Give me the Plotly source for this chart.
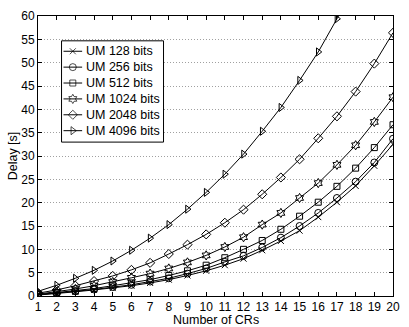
import plotly.graph_objects as go

x_crs = list(range(1, 21))
x_4096 = list(range(1, 19))

um_128 = [0.2, 0.5, 0.9, 1.3, 1.7, 2.2, 2.8, 3.5, 4.4, 5.4, 6.6, 8.0, 9.8, 11.8, 14.0, 16.9, 20.1, 23.6, 27.9, 32.5]
um_256 = [0.25, 0.6, 1.0, 1.4, 1.9, 2.4, 3.1, 3.8, 4.8, 5.9, 7.3, 8.6, 10.4, 12.5, 15.0, 17.8, 21.0, 24.5, 28.6, 33.7]
um_512 = [0.3, 0.7, 1.1, 1.6, 2.2, 2.8, 3.5, 4.4, 5.4, 6.6, 8.2, 10.0, 11.9, 14.3, 17.1, 20.1, 23.5, 27.4, 31.8, 36.7]
um_1024 = [0.4, 0.9, 1.5, 2.2, 3.0, 3.9, 4.8, 5.9, 7.2, 8.7, 10.5, 12.6, 15.3, 17.8, 21.0, 24.2, 28.1, 32.3, 37.3, 42.6]
um_2048 = [0.6, 1.3, 2.2, 3.2, 4.3, 5.6, 7.1, 9.0, 11.0, 13.2, 15.7, 18.5, 21.8, 25.4, 29.3, 33.8, 38.5, 43.8, 49.8, 56.4]
um_4096 = [1.0, 2.3, 3.8, 5.5, 7.5, 9.8, 12.4, 15.3, 18.6, 22.2, 26.1, 30.4, 35.3, 40.4, 46.2, 52.3, 59.4, 66.5]

series_names = ["UM 128 bits", "UM 256 bits", "UM 512 bits", "UM 1024 bits", "UM 2048 bits", "UM 4096 bits"]
series_x = [x_crs, x_crs, x_crs, x_crs, x_crs, x_4096]
series_y = [um_128, um_256, um_512, um_1024, um_2048, um_4096]
symbols = ["x-thin-open", "circle-open", "square-open", "hexagram-open", "diamond-open", "triangle-right-open"]
sizes = [6, 7, 6, 7, 7, 7]

font = "Liberation Sans, Arial, Helvetica, sans-serif"
FS = 12.5
TICK_FS = 12

fig = go.Figure()
for name, xs, ys, sym, sz in zip(series_names, series_x, series_y, symbols, sizes):
    fig.add_trace(go.Scatter(
        x=xs, y=ys, name=name, mode="lines+markers", showlegend=False,
        line=dict(color="black", width=1),
        marker=dict(symbol=sym, size=sz, color="black", line=dict(color="black", width=1)),
    ))

# Custom legend on an overlay axis measured in pixels of the plot area
L_LEFT, L_RIGHT, L_TOP, L_BOTTOM = 62, 166, 39, 141
fig.add_trace(go.Scatter(
    x=[L_LEFT, L_RIGHT, L_RIGHT, L_LEFT, L_LEFT],
    y=[L_TOP, L_TOP, L_BOTTOM, L_BOTTOM, L_TOP],
    xaxis="x2", yaxis="y2", mode="lines", fill="toself", fillcolor="white",
    line=dict(color="black", width=1), showlegend=False, hoverinfo="skip",
))
row0, row_gap = 49.5, 16.0
for i, (name, sym, sz) in enumerate(zip(series_names, symbols, sizes)):
    cy = row0 + row_gap * i
    fig.add_trace(go.Scatter(
        x=[64, 73.5, 83], y=[cy, cy, cy], xaxis="x2", yaxis="y2",
        mode="lines+markers", showlegend=False, hoverinfo="skip",
        line=dict(color="black", width=1),
        marker=dict(symbol=sym, size=[0, sz, 0], color="black", line=dict(color="black", width=1)),
    ))
    fig.add_annotation(
        x=85, y=cy, xref="x2", yref="y2", text=name, showarrow=False,
        xanchor="left", yanchor="middle", font=dict(size=FS, family=font, color="black"),
    )

# x-axis title placed as text below the tick labels
fig.add_annotation(
    x=0.5, y=(296 - 320) / 282, xref="paper", yref="paper", text="Number of CRs", showarrow=False,
    xanchor="center", yanchor="middle", font=dict(size=FS, family=font, color="black"),
)

fig.update_layout(
    width=409, height=327,
    margin=dict(l=38, r=9, t=14, b=31),
    paper_bgcolor="white", plot_bgcolor="white",
    font=dict(family=font, size=TICK_FS, color="black"),
    showlegend=False,
    xaxis=dict(
        range=[1, 20], tickmode="linear", tick0=1, dtick=1,
        ticks="inside", ticklen=4, tickcolor="black", ticklabelstandoff=0,
        tickfont=dict(size=TICK_FS),
        showline=True, linecolor="black", linewidth=1, mirror="ticks",
        showgrid=False, zeroline=False,
    ),
    yaxis=dict(
        range=[0, 60], tickmode="linear", tick0=0, dtick=5,
        ticks="inside", ticklen=4, tickcolor="black",
        tickfont=dict(size=TICK_FS),
        showline=True, linecolor="black", linewidth=1, mirror="ticks",
        showgrid=True, gridcolor="#a0a0a0", griddash="1px,2px", gridwidth=1,
        zeroline=False,
        title=dict(text="Delay [s]", standoff=0, font=dict(size=FS)),
    ),
    xaxis2=dict(overlaying="x", range=[38, 400], visible=False, fixedrange=True),
    yaxis2=dict(overlaying="y", range=[296, 14], visible=False, fixedrange=True),
)

fig.write_html("out.html")
